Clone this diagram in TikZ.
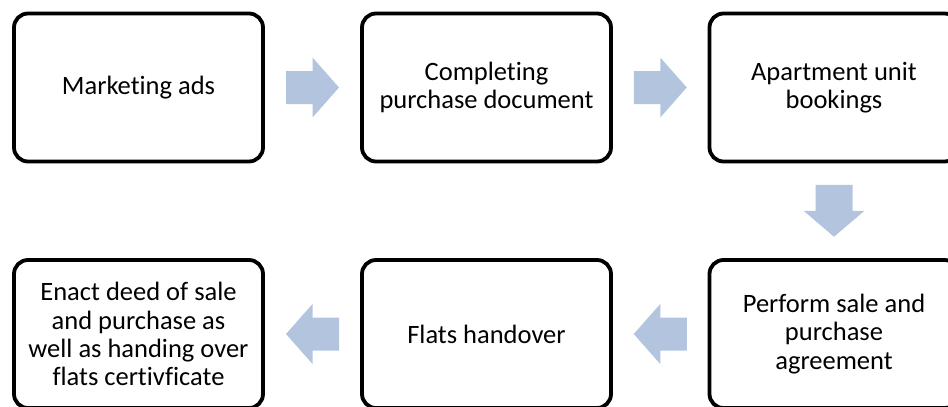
\documentclass[tikz,border=0pt]{standalone}
\usepackage{fontspec}
\setmainfont{Carlito}[Ligatures={NoCommon}]
\usetikzlibrary{calc}
\definecolor{arrowblue}{RGB}{179,196,222}
\tikzset{
  stepbox/.style={draw=black, line width=3.8pt, rounded corners=14pt, fill=white,
    minimum width=249pt, minimum height=148pt, align=center, inner sep=0pt,
    font=\fontsize{26.5pt}{28.2pt}\selectfont},
  blockarrow/.pic={
    \fill[arrowblue] (-26.5,-16.5) -- (0,-16.5) -- (0,-30) -- (26.5,0) -- (0,30) -- (0,16.5) -- (-26.5,16.5) -- cycle;
  },
  widearrow/.pic={
    \fill[arrowblue] (-26,-18.5) -- (0,-18.5) -- (0,-30.5) -- (26,0) -- (0,30.5) -- (0,18.5) -- (-26,18.5) -- cycle;
  }
}
\begin{document}
\begin{tikzpicture}[x=1pt,y=-1pt]
\useasboundingbox (0,0) rectangle (948,407);
\clip (0,0) rectangle (948,407);
\node[stepbox] (b1) at (138.5,87.5) {Marketing ads};
\node[stepbox] (b2) at (486.5,87.5) {Completing\\purchase document};
\node[stepbox] (b3) at (834,87.5) {Apartment unit\\bookings};
\node[stepbox] (b4) at (834,334) {Perform sale and\\purchase\\agreement};
\node[stepbox] (b5) at (486.5,334) {Flats handover};
\node[stepbox] (b6) at (138.5,334) {Enact deed of sale\\and purchase as\\well as handing over\\flats certivficate};
\pic at ($(b1.east)!0.5!(b2.west)$) {blockarrow};
\pic at ($(b2.east)!0.5!(b3.west)$) {blockarrow};
\pic[rotate=-90] at ($(b3.south)!0.5!(b4.north)$) {widearrow};
\pic[rotate=180] at ($(b4.west)!0.5!(b5.east)$) {blockarrow};
\pic[rotate=180] at ($(b5.west)!0.5!(b6.east)$) {blockarrow};
\end{tikzpicture}
\end{document}
